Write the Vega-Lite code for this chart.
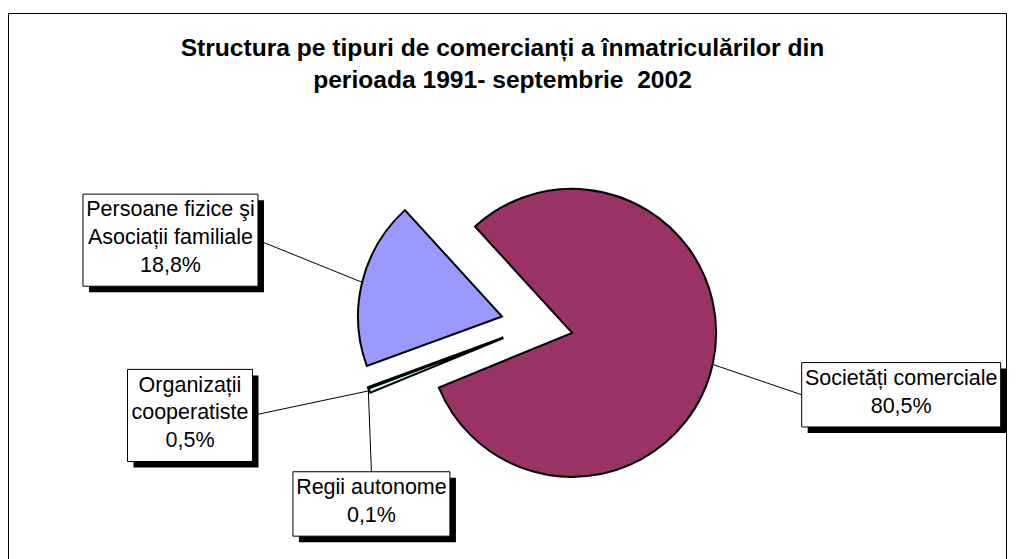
{
  "$schema": "https://vega.github.io/schema/vega-lite/v6.json",
  "width": 998,
  "height": 546,
  "padding": {"left": 8, "top": 13, "right": 10, "bottom": 0},
  "autosize": {"type": "none"},
  "background": "#ffffff",
  "config": {"view": {"stroke": "#000000", "strokeWidth": 1}},
  "title": {
    "text": ["Structura pe tipuri de comercianți a înmatriculărilor din", "perioada 1991- septembrie\u00a0 2002"],
    "font": "Liberation Sans",
    "fontSize": 24.6,
    "fontWeight": "bold",
    "color": "#000000",
    "anchor": "middle",
    "frame": "group",
    "offset": -81,
    "dx": -4.5,
    "lineHeight": 32
  },
  "data": {
    "values": [
      {"tip": "Societăți comerciale", "pct": 80.5, "ord": 1, "eticheta": "Societăți comerciale\n80,5%"},
      {"tip": "Organizații cooperatiste", "pct": 0.5, "ord": 2, "eticheta": "Organizații\ncooperatiste\n0,5%"},
      {"tip": "Regii autonome", "pct": 0.1, "ord": 3, "eticheta": "Regii autonome\n0,1%"},
      {"tip": "Persoane fizice şi Asociații familiale", "pct": 18.8, "ord": 4, "eticheta": "Persoane fizice şi\nAsociații familiale\n18,8%"}
    ]
  },
  "transform": [
    {"joinaggregate": [{"op": "sum", "field": "pct", "as": "tot"}]},
    {"window": [{"op": "sum", "field": "pct", "as": "cum"}], "sort": [{"field": "ord"}], "frame": [null, 0]},
    {"calculate": "5.5432 + 2 * PI * (datum.cum - datum.pct) / datum.tot", "as": "a0"},
    {"calculate": "5.5432 + 2 * PI * datum.cum / datum.tot", "as": "a1"},
    {"calculate": "(datum.a0 + datum.a1) / 2", "as": "mid"},
    {"calculate": "36 * sin(datum.mid)", "as": "ex"},
    {"calculate": "-36 * cos(datum.mid)", "as": "ey"},
    {"calculate": "180 * sin(datum.mid)", "as": "sx"},
    {"calculate": "-180 * cos(datum.mid)", "as": "sy"},
    {"calculate": "datum.ord == 1 ? 370.8 : datum.ord == 2 ? 358.6 : datum.ord == 3 ? 243.8 : 376.2", "as": "lr"},
    {"calculate": "datum.ord == 1 ? -1.8 : datum.ord == 2 ? 6.8 : datum.ord == 3 ? -26.9 : -0.7", "as": "lda"},
    {"calculate": "datum.ord == 1 ? 199 : datum.ord == 2 ? 125 : datum.ord == 3 ? 157 : 175", "as": "bw"},
    {"calculate": "length(split(datum.eticheta, '\\n'))", "as": "nl"},
    {"calculate": "9 + 27.7 * datum.nl", "as": "bh"},
    {"calculate": "datum.mid + datum.lda * PI / 180", "as": "la"},
    {"calculate": "datum.lr * sin(datum.la)", "as": "lx"},
    {"calculate": "-datum.lr * cos(datum.la)", "as": "ly"},
    {"calculate": "datum.ly - (datum.nl - 1) * 27.7 / 2", "as": "ty"},
    {"calculate": "datum.lx - datum.bw / 2", "as": "bx0"},
    {"calculate": "datum.lx + datum.bw / 2", "as": "bx1"},
    {"calculate": "datum.ly - datum.bh / 2", "as": "by0"},
    {"calculate": "datum.ly + datum.bh / 2", "as": "by1"},
    {"calculate": "abs(datum.ly - datum.sy) > abs(datum.lx - datum.sx)", "as": "vert"},
    {"calculate": "datum.vert ? datum.lx : (datum.lx > datum.sx ? datum.bx0 : datum.bx1)", "as": "lex"},
    {"calculate": "datum.vert ? (datum.ly > datum.sy ? datum.by0 : datum.by1) : datum.ly", "as": "ley"}
  ],
  "layer": [
    {
      "mark": {"type": "arc", "outerRadius": 144, "stroke": "#000000", "strokeWidth": 2, "strokeJoin": "miter"},
      "encoding": {
        "x": {"field": "ex", "type": "quantitative", "scale": {"domain": [-529, 469], "nice": false, "zero": false}, "axis": null},
        "y": {"field": "ey", "type": "quantitative", "scale": {"domain": [-312, 234], "nice": false, "zero": false, "reverse": true}, "axis": null},
        "theta": {"field": "a0", "type": "quantitative", "scale": null},
        "theta2": {"field": "a1"},
        "color": {
          "field": "tip", "type": "nominal", "legend": null,
          "scale": {
            "domain": ["Societăți comerciale", "Organizații cooperatiste", "Regii autonome", "Persoane fizice şi Asociații familiale"],
            "range": ["#993366", "#CCFFFF", "#FFFFCC", "#9999FF"]
          }
        }
      }
    },
    {
      "mark": {"type": "rule", "stroke": "#000000", "strokeWidth": 1},
      "encoding": {
        "x": {"field": "sx", "type": "quantitative", "scale": {"domain": [-529, 469], "nice": false, "zero": false}, "axis": null},
        "y": {"field": "sy", "type": "quantitative", "scale": {"domain": [-312, 234], "nice": false, "zero": false, "reverse": true}, "axis": null},
        "x2": {"field": "lex"},
        "y2": {"field": "ley"}
      }
    },
    {
      "mark": {"type": "rect", "fill": "#000000", "xOffset": 6, "x2Offset": 6, "yOffset": 6, "y2Offset": 6},
      "encoding": {
        "x": {"field": "bx0", "type": "quantitative", "scale": {"domain": [-529, 469], "nice": false, "zero": false}, "axis": null},
        "y": {"field": "by0", "type": "quantitative", "scale": {"domain": [-312, 234], "nice": false, "zero": false, "reverse": true}, "axis": null},
        "x2": {"field": "bx1"},
        "y2": {"field": "by1"}
      }
    },
    {
      "mark": {"type": "rect", "fill": "#ffffff", "stroke": "#000000", "strokeWidth": 1},
      "encoding": {
        "x": {"field": "bx0", "type": "quantitative", "scale": {"domain": [-529, 469], "nice": false, "zero": false}, "axis": null},
        "y": {"field": "by0", "type": "quantitative", "scale": {"domain": [-312, 234], "nice": false, "zero": false, "reverse": true}, "axis": null},
        "x2": {"field": "bx1"},
        "y2": {"field": "by1"}
      }
    },
    {
      "mark": {"type": "text", "font": "Liberation Sans", "fontSize": 21.5, "lineHeight": 27.7, "lineBreak": "\n", "align": "center", "baseline": "middle", "dy": -2, "color": "#000000"},
      "encoding": {
        "x": {"field": "lx", "type": "quantitative", "scale": {"domain": [-529, 469], "nice": false, "zero": false}, "axis": null},
        "y": {"field": "ty", "type": "quantitative", "scale": {"domain": [-312, 234], "nice": false, "zero": false, "reverse": true}, "axis": null},
        "text": {"field": "eticheta"}
      }
    }
  ]
}
